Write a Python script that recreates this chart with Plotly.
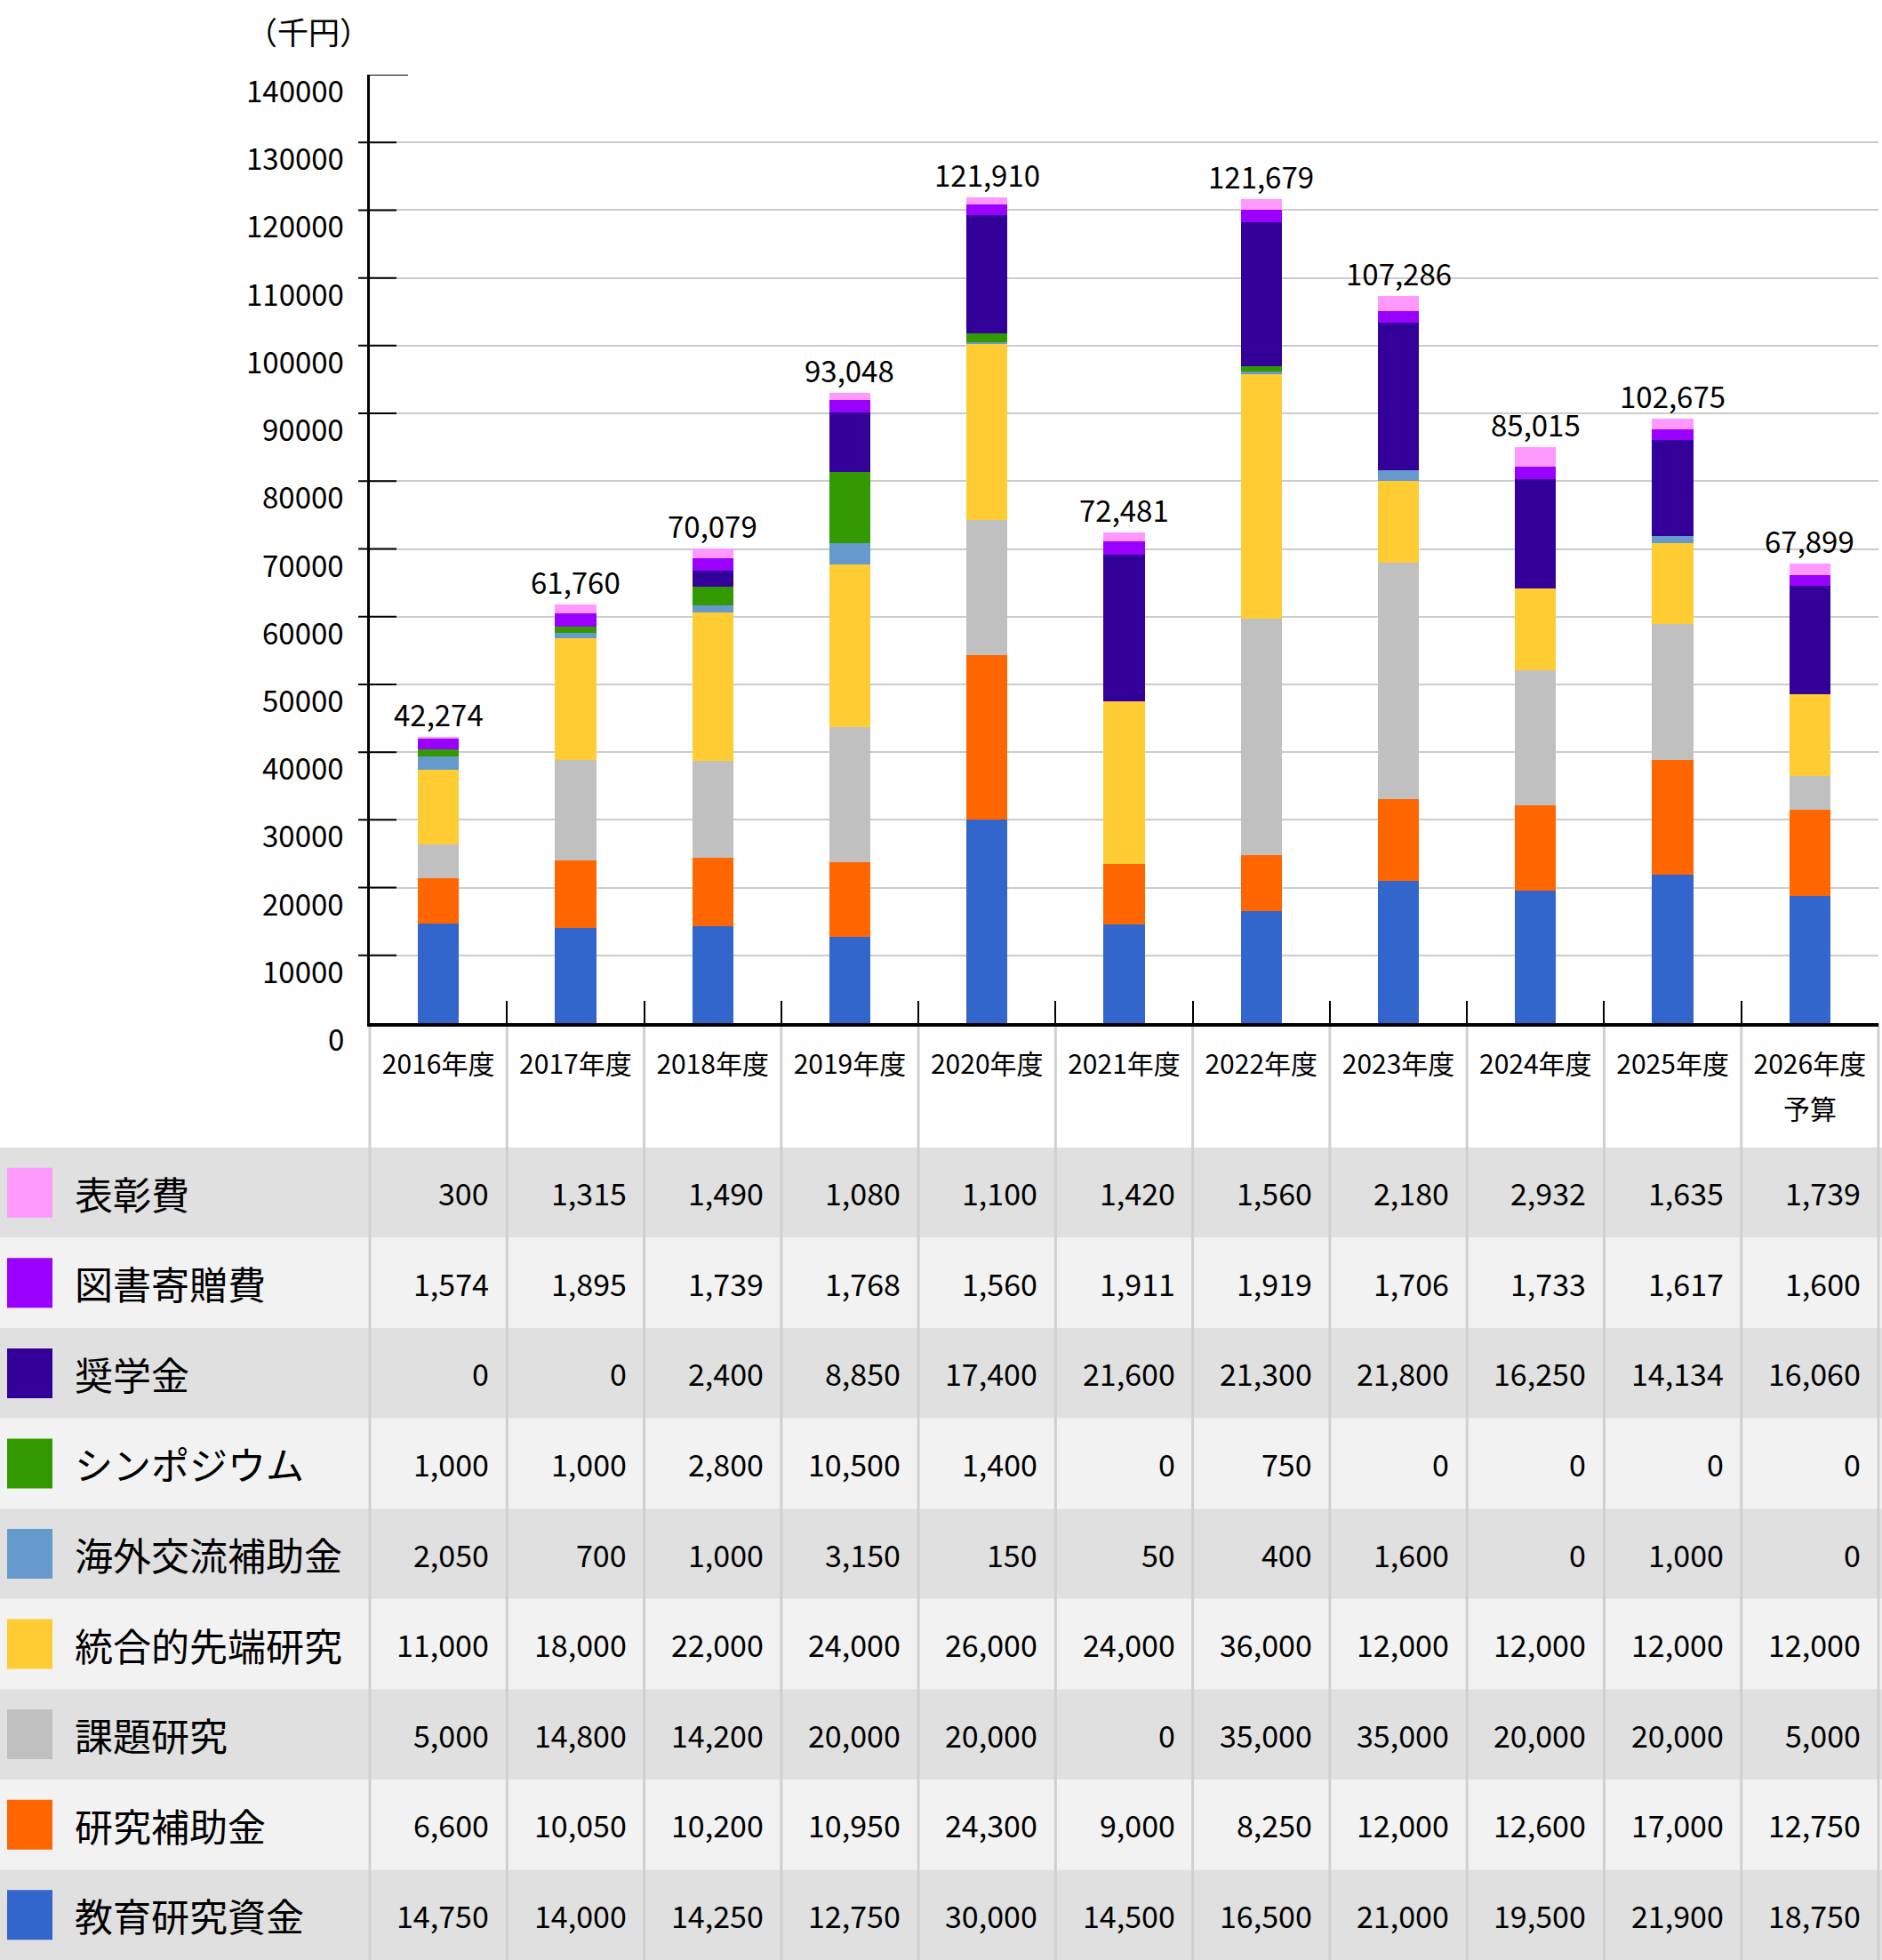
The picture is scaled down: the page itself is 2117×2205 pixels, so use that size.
import plotly.graph_objects as go

# ---------------- data ----------------
years = ["2016年度", "2017年度", "2018年度", "2019年度", "2020年度", "2021年度",
         "2022年度", "2023年度", "2024年度", "2025年度", "2026年度"]
year_notes = ["", "", "", "", "", "", "", "", "", "", "予算"]

award = [300, 1315, 1490, 1080, 1100, 1420, 1560, 2180, 2932, 1635, 1739]           # 表彰費
book = [1574, 1895, 1739, 1768, 1560, 1911, 1919, 1706, 1733, 1617, 1600]           # 図書寄贈費
scholarship = [0, 0, 2400, 8850, 17400, 21600, 21300, 21800, 16250, 14134, 16060]   # 奨学金
symposium = [1000, 1000, 2800, 10500, 1400, 0, 750, 0, 0, 0, 0]                     # シンポジウム
exchange = [2050, 700, 1000, 3150, 150, 50, 400, 1600, 0, 1000, 0]                  # 海外交流補助金
integrated = [11000, 18000, 22000, 24000, 26000, 24000, 36000, 12000, 12000, 12000, 12000]  # 統合的先端研究
theme = [5000, 14800, 14200, 20000, 20000, 0, 35000, 35000, 20000, 20000, 5000]     # 課題研究
subsidy = [6600, 10050, 10200, 10950, 24300, 9000, 8250, 12000, 12600, 17000, 12750]  # 研究補助金
edu = [14750, 14000, 14250, 12750, 30000, 14500, 16500, 21000, 19500, 21900, 18750]  # 教育研究資金

total_labels = ["42,274", "61,760", "70,079", "93,048", "121,910", "72,481",
                "121,679", "107,286", "85,015", "102,675", "67,899"]

y_ticks = [0, 10000, 20000, 30000, 40000, 50000, 60000, 70000, 80000, 90000,
           100000, 110000, 120000, 130000, 140000]
unit_label = "（千円）"

# table order (top to bottom)
row_names = ["表彰費", "図書寄贈費", "奨学金", "シンポジウム", "海外交流補助金",
             "統合的先端研究", "課題研究", "研究補助金", "教育研究資金"]
row_values = [award, book, scholarship, symposium, exchange, integrated, theme, subsidy, edu]
row_colors = ["#ff99ff", "#9900ff", "#330099", "#339900", "#6699cc",
              "#ffcc33", "#c0c0c0", "#ff6600", "#3366cc"]

# ---------------- layout helpers ----------------
W, H = 2117, 2205
FONT = "Noto Sans CJK JP"


def px(x):
    return x / W


def py(y):
    return 1 - y / H


X0, X1 = 416, 2113          # plot area left/right in px
Y_ZERO, Y_TOP = 1151, 84     # y pixel of 0 and 140000
TABLE_TOP = 1291
ROW_H = (H - TABLE_TOP) / 9

fig = go.Figure()

# stacked bars, bottom to top
for i in reversed(range(len(row_names))):
    fig.add_trace(go.Bar(
        x=years, y=row_values[i], name=row_names[i],
        marker=dict(color=row_colors[i], line=dict(width=0)),
        width=0.30, hoverinfo="x+y+name",
    ))

shapes = []
annotations = []

# table row backgrounds
for r in range(9):
    top = TABLE_TOP + r * ROW_H
    shapes.append(dict(type="rect", xref="paper", yref="paper",
                       x0=0, x1=1, y0=py(top + ROW_H), y1=py(top),
                       fillcolor="#e0e0e0" if r % 2 == 0 else "#f2f2f2",
                       line=dict(width=0), layer="below"))
    cy = top + ROW_H / 2
    # colour swatch
    shapes.append(dict(type="rect", xref="paper", yref="paper",
                       x0=px(8), x1=px(59), y0=py(cy + 28), y1=py(cy - 28),
                       fillcolor=row_colors[r], line=dict(width=0), layer="below"))
    annotations.append(dict(xref="paper", yref="paper", x=px(82), y=py(cy),
                            xanchor="left", yanchor="middle", showarrow=False,
                            text=row_names[r], font=dict(size=43, color="black", family=FONT)))
    for c, v in enumerate(row_values[r]):
        annotations.append(dict(xref="x", yref="paper", x=c + 0.5, y=py(cy),
                                xanchor="right", yanchor="middle", xshift=-18, showarrow=False,
                                text=f"{v:,}", font=dict(size=34, color="black", family=FONT)))

# vertical grey separators through the label area and table
n = len(years)
for k in range(n + 1):
    xp = px(X0 + (X1 - X0) * k / n)
    shapes.append(dict(type="line", xref="paper", yref="paper",
                       x0=xp, x1=xp, y0=0, y1=py(Y_ZERO),
                       line=dict(color="#d0d0d0", width=3), layer="below"))

# y-axis tick marks crossing the axis
for v in y_ticks[1:-1]:
    shapes.append(dict(type="line", xref="paper", yref="y", x0=px(403), x1=px(446),
                       y0=v, y1=v, line=dict(color="black", width=2)))
shapes.append(dict(type="line", xref="paper", yref="y", x0=px(X0), x1=px(459),
                   y0=y_ticks[-1], y1=y_ticks[-1], line=dict(color="black", width=2)))

# y tick labels (sit slightly below their grid line)
for v in y_ticks:
    annotations.append(dict(xref="paper", yref="y", x=px(389), y=v, yshift=-17,
                            xanchor="right", yanchor="middle", showarrow=False,
                            text=str(v), font=dict(size=33, color="black", family=FONT)))

annotations.append(dict(xref="paper", yref="paper", x=px(347), y=py(35),
                        xanchor="center", yanchor="middle", showarrow=False,
                        text=unit_label, font=dict(size=35, color="black", family=FONT)))

# second line of category labels (予算)
for c in range(n):
    if year_notes[c]:
        annotations.append(dict(xref="x", yref="paper", x=c, y=py(1246),
                                xanchor="center", yanchor="middle", showarrow=False,
                                text=year_notes[c], font=dict(size=30, color="black", family=FONT)))

# total labels above bars
for c in range(n):
    top = sum(rv[c] for rv in row_values)
    annotations.append(dict(xref="x", yref="y", x=c, y=top, yshift=26,
                            xanchor="center", yanchor="middle", showarrow=False,
                            text=total_labels[c], font=dict(size=33, color="black", family=FONT)))

fig.update_layout(
    width=W, height=H, autosize=False,
    margin=dict(l=0, r=0, t=0, b=0),
    paper_bgcolor="white", plot_bgcolor="white",
    barmode="stack", bargap=0.70, showlegend=False,
    font=dict(family=FONT, color="black"),
    xaxis=dict(domain=[px(X0), px(X1)], type="category", categoryarray=years,
               range=[-0.5, n - 0.5], tickson="boundaries", ticks="inside",
               ticklen=25, tickwidth=2, tickcolor="black",
               showline=True, linewidth=4, linecolor="black", showgrid=False,
               tickfont=dict(size=30, color="black", family=FONT),
               ticklabelstandoff=17, fixedrange=True),
    yaxis=dict(domain=[py(Y_ZERO), py(Y_TOP)], range=[0, 140000], dtick=10000,
               showticklabels=False, ticks="", showgrid=True, gridcolor="#cccccc",
               gridwidth=2, zeroline=False, showline=True, linewidth=3,
               linecolor="black", fixedrange=True),
    shapes=shapes, annotations=annotations,
)

fig.write_html("out.html")
